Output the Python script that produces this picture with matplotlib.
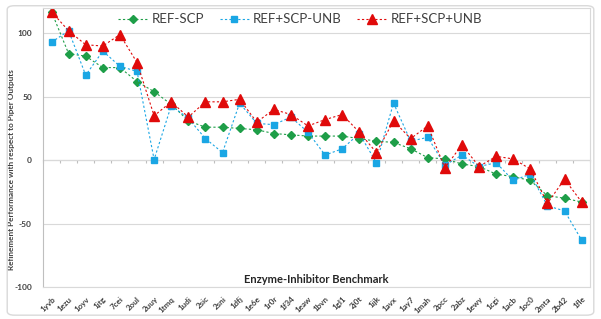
import numpy as np
import matplotlib
matplotlib.use('Agg')
import matplotlib.pyplot as plt
from matplotlib.patches import FancyBboxPatch

plt.rcParams['font.family'] = ['Lato', 'DejaVu Sans']

complexes = ['1yvb', '1ezu', '1oyv', '1jtg', '7cei', '2oul', '2uuy', '1tmq', '1udi', '2sic',
             '2sni', '1dfj', '1e6e', '1r0r', '1f34', '1eaw', '1bvn', '1gl1', '2j0t', '1ijk',
             '1avx', '1ay7', '1mah', '2pcc', '2abz', '1ewy', '1cgi', '1acb', '1oc0', '2mta',
             '2b42', '1fle']

ref_scp = [117, 84, 82, 73, 73, 62, 54, 44, 31, 26,
           26, 25, 24, 21, 20, 19, 19, 19, 17, 15,
           14, 9, 2, 1, -3, -5, -11, -13, -16, -28,
           -30, -33]
ref_scp_unb = [93, 102, 67, 86, 74, 70, 0.5, 43, 33, 17,
               6, 45, 29, 28, 34, 22, 4, 9, 21, -2,
               45, 15, 18, -4, 4, -5, -2, -16, -11, -36,
               -40, -63]
ref_scp_plus_unb = [117, 102, 91, 90, 99, 77, 35, 46, 34, 46,
                    46, 48, 30, 40, 36, 27, 32, 36, 22, 6,
                    31, 17, 27, -6, 12, -5, 3, 1, -7, -34,
                    -15, -33]

green = '#1e9e48'
blue = '#1aa6e4'
red = '#e00a0a'

fig = plt.figure(figsize=(6.01, 3.19), dpi=100)
ax = fig.add_axes([0.0715, 0.1003, 0.9105, 0.8747])

x = np.arange(len(complexes))

ax.plot(x, ref_scp, color=green, linestyle=(0, (2, 2)), linewidth=0.8,
        marker='D', markersize=4.3, label='REF-SCP')
ax.plot(x, ref_scp_unb, color=blue, linestyle=(0, (2, 2)), linewidth=0.8,
        marker='s', markersize=5, label='REF+SCP-UNB')
ax.plot(x, ref_scp_plus_unb, color=red, linestyle=(0, (2, 2)), linewidth=0.8,
        marker='^', markersize=6.5, label='REF+SCP+UNB')

ax.set_xlim(-0.5, len(complexes) - 0.5)
ax.set_ylim(-100, 120)
ax.set_yticks([-100, -50, 0, 50, 100])
ax.set_yticklabels(['-100', '-50', '0', '50', '100'], fontsize=6, fontweight='bold', color='#404040')
ax.yaxis.grid(True, color='#d9d9d9', linewidth=0.8)
ax.set_axisbelow(True)
ax.tick_params(axis='y', length=0, pad=8)

ax.set_xticks(x)
ax.set_xticklabels(complexes, rotation=45, ha='right', rotation_mode='anchor',
                   fontsize=5.8, fontweight='bold', color='#404040')
ax.tick_params(axis='x', length=0, pad=6)

for side in ['top', 'right', 'bottom']:
    ax.spines[side].set_color('#d9d9d9')
ax.spines['left'].set_color('#bfbfbf')

# zero line with category ticks
zero = ax.secondary_xaxis((0 - (-100)) / 220.0)
zero.set_xticks(np.arange(len(complexes) + 1) - 0.5)
zero.set_xticklabels([])
zero.tick_params(direction='out', length=2.5, color='#bfbfbf', width=0.8)
zero.spines['bottom'].set_color('#a6a6a6')
zero.spines['top'].set_visible(False)

ax.set_ylabel('Refinement Performance with respect to Piper Outputs', fontsize=5.9,
              fontweight='bold', color='#404040')
ax.yaxis.set_label_coords(-0.052, 0.42)
ax.text(0.5, 0.027, 'Enzyme-Inhibitor Benchmark', transform=ax.transAxes, ha='center',
        va='center', fontsize=8, fontweight='bold', color='#262626')

ax.legend(loc='center', bbox_to_anchor=(0.47, 0.96), ncol=3, frameon=False, fontsize=9.5,
          handlelength=2.2, columnspacing=1.2, handletextpad=0.3, labelcolor='#404040')

fig.patches.append(FancyBboxPatch((0.012, 0.012), 0.976, 0.97,
                                  boxstyle='round,pad=0,rounding_size=0.012',
                                  transform=fig.transFigure, facecolor='none',
                                  edgecolor='#d9d9d9', linewidth=1.0))

fig.savefig('out.png', dpi=100)
